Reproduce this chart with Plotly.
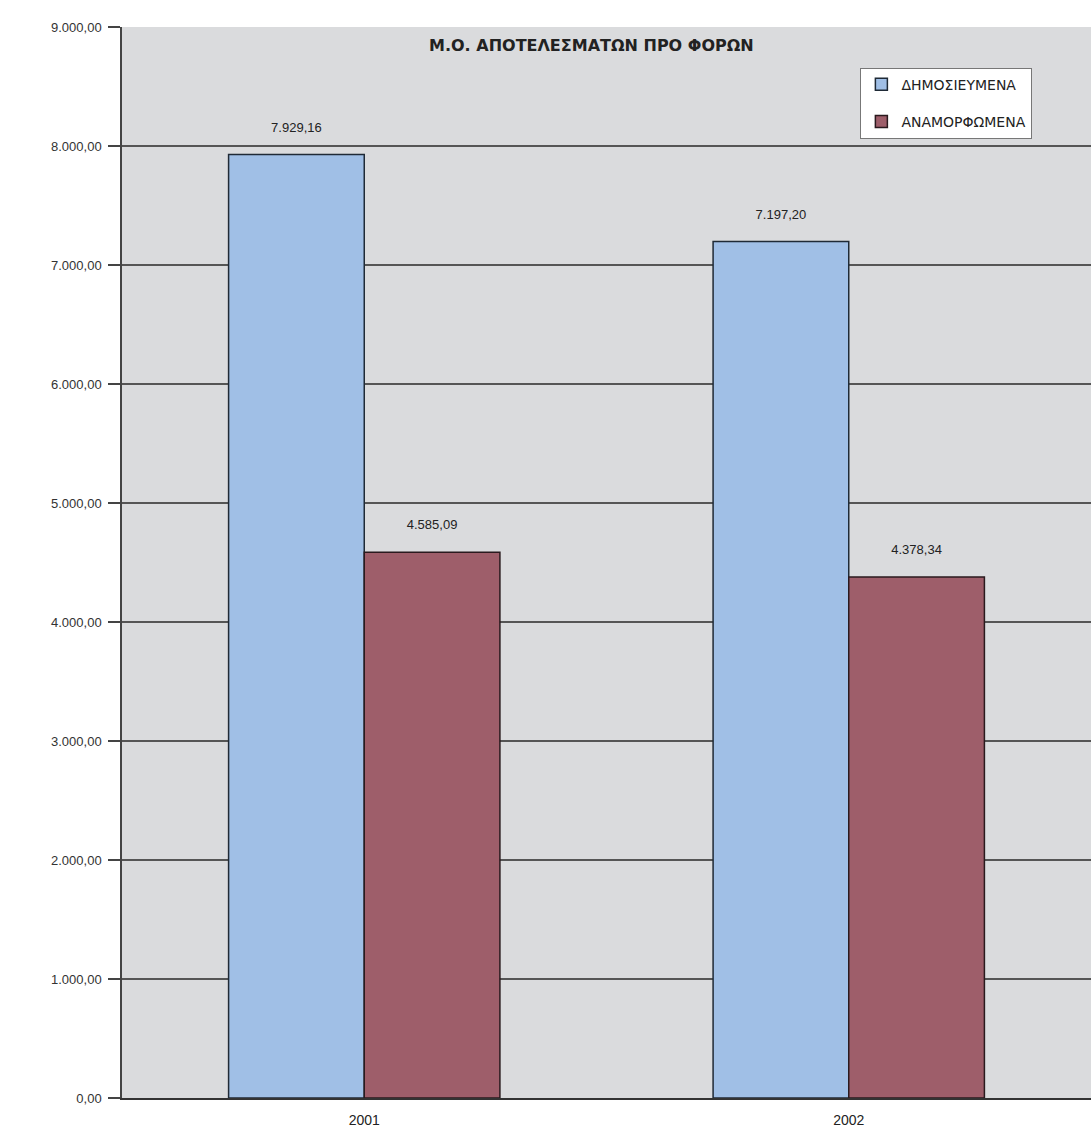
import plotly.graph_objects as go

# Average pre-tax results per year
years = ["2001", "2002"]
published = [7929.16, 7197.20]
restated = [4585.09, 4378.34]
series_names = ["ΔΗΜΟΣΙΕΥΜΕΝΑ", "ΑΝΑΜΟΡΦΩΜΕΝΑ"]
chart_title = "Μ.Ο. ΑΠΟΤΕΛΕΣΜΑΤΩΝ ΠΡΟ ΦΟΡΩΝ"
y_ticks = [0, 1000, 2000, 3000, 4000, 5000, 6000, 7000, 8000, 9000]

FONT = "Liberation Sans, Arial, sans-serif"
WIDE_FONT = "DejaVu Sans, Verdana, sans-serif"

# value label sits one blank line above the bar top
LABEL = "%{y:,.2f}<br> "

fig = go.Figure()
fig.add_trace(go.Bar(
    x=years, y=published, name=series_names[0], legendgroup="a",
    marker=dict(color="#a0bfe6", line=dict(color="#1f2a36", width=1.5)),
    texttemplate=LABEL, textposition="outside",
    textfont=dict(size=13, color="#222222", family=FONT),
    cliponaxis=False,
))
fig.add_trace(go.Bar(
    x=years, y=restated, name=series_names[1], legendgroup="b",
    marker=dict(color="#9e5e6a", line=dict(color="#2a1a1e", width=1.5)),
    texttemplate=LABEL, textposition="outside",
    textfont=dict(size=13, color="#222222", family=FONT),
    cliponaxis=False,
))

fig.update_layout(
    width=1091, height=1135,
    margin=dict(l=122, r=0, t=27, b=37),
    paper_bgcolor="white",
    plot_bgcolor="#dadbdd",
    separators=",.",
    barmode="group",
    bargap=0.44,
    bargroupgap=0,
    font=dict(family=FONT, size=13, color="#333333"),
    showlegend=True,
    legend=dict(
        x=0.762, y=0.962, xanchor="left", yanchor="top",
        bgcolor="white", bordercolor="#777777", borderwidth=1,
        font=dict(size=14, color="#222222", family=WIDE_FONT),
        tracegroupgap=16, traceorder="grouped", itemwidth=30,
    ),
    annotations=[dict(
        text="<b>" + chart_title + "</b>", xref="paper", yref="paper",
        x=0.485, y=0.993, xanchor="center", yanchor="top", showarrow=False,
        font=dict(size=16, color="#222222", family=WIDE_FONT),
    )],
)
fig.update_yaxes(
    range=[0, 9000], tickvals=y_ticks, tickformat=",.2f",
    showgrid=True, gridcolor="#555555", gridwidth=1.6,
    ticks="outside", ticklen=12, tickcolor="#444444", tickwidth=1.5,
    showline=True, linecolor="#444444", linewidth=1.5,
    zeroline=False, ticklabelstandoff=4,
)
fig.update_xaxes(
    type="category", showline=True, linecolor="#333333", linewidth=1.5,
    ticks="", tickfont=dict(size=14, color="#222222"),
    ticklabelstandoff=8,
)

fig.write_html("out.html")
